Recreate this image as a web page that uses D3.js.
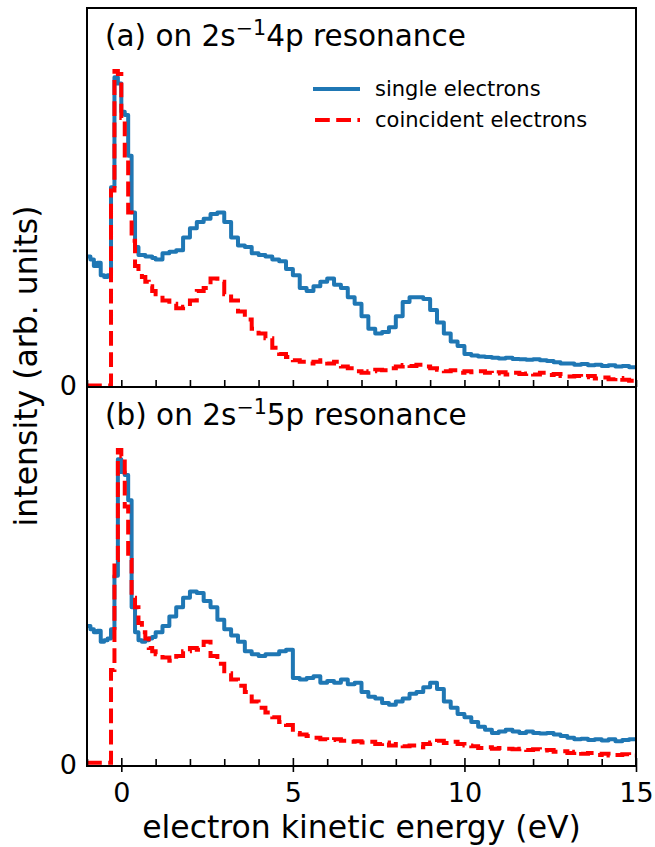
<!DOCTYPE html>
<html>
<head>
<meta charset="utf-8">
<script src="https://cdn.jsdelivr.net/npm/d3@7"></script>
<style>
  html, body { margin: 0; padding: 0; background: #fff; }
  svg { display: block; }
  text { font-family: "DejaVu Sans", sans-serif; fill: #000; }
</style>
</head>
<body>
<svg id="chart" width="655" height="847"></svg>
<script>
// ---------------- data ----------------
const energy = [
  -1.0,-0.9,-0.8,-0.7,-0.6,-0.5,-0.4,-0.3,-0.2,-0.1,
  0.0,0.1,0.2,0.3,0.4,0.5,0.6,0.7,0.8,0.9,
  1.0,1.2,1.4,1.6,1.8,2.0,2.2,2.4,2.6,2.8,
  3.0,3.2,3.4,3.6,3.8,4.0,4.2,4.4,4.6,4.8,
  5.0,5.2,5.4,5.6,5.8,6.0,6.2,6.4,6.6,6.8,
  7.0,7.2,7.4,7.6,7.8,8.0,8.2,8.4,8.6,8.8,
  9.0,9.2,9.4,9.6,9.8,10.0,10.2,10.4,10.6,10.8,
  11.0,11.2,11.4,11.6,11.8,12.0,12.2,12.4,12.6,12.8,
  13.0,13.2,13.4,13.6,13.8,14.0,14.2,14.4,14.6,14.8,15.0
];

// panel (a): 2s^-1 4p resonance
const singleA = [
  0.41,0.40,0.38,0.39,0.35,0.345,0.35,0.63,0.98,0.96,
  0.87,0.86,0.73,0.55,0.44,0.415,0.415,0.41,0.41,0.405,
  0.40,0.42,0.425,0.43,0.47,0.50,0.52,0.53,0.545,0.55,
  0.52,0.47,0.445,0.44,0.42,0.415,0.41,0.40,0.395,0.37,
  0.35,0.31,0.30,0.315,0.33,0.34,0.32,0.31,0.28,0.26,
  0.22,0.18,0.165,0.17,0.185,0.22,0.265,0.28,0.28,0.275,
  0.24,0.20,0.165,0.14,0.125,0.10,0.095,0.092,0.09,0.088,
  0.086,0.088,0.084,0.083,0.082,0.083,0.08,0.078,0.074,0.07,
  0.07,0.066,0.068,0.064,0.066,0.062,0.064,0.06,0.062,0.058,0.058
];
const coincA = [
  0.0,0.0,0.0,0.0,0.0,0.0,0.0,0.62,1.0,0.99,
  0.85,0.72,0.55,0.46,0.38,0.36,0.345,0.33,0.315,0.30,
  0.29,0.27,0.26,0.245,0.25,0.27,0.30,0.31,0.34,0.33,
  0.29,0.27,0.235,0.21,0.18,0.165,0.15,0.12,0.10,0.09,
  0.08,0.075,0.07,0.075,0.08,0.07,0.075,0.06,0.055,0.045,
  0.04,0.045,0.05,0.048,0.055,0.06,0.065,0.062,0.066,0.06,
  0.055,0.05,0.045,0.048,0.04,0.045,0.042,0.045,0.04,0.038,
  0.042,0.035,0.04,0.036,0.038,0.035,0.04,0.033,0.036,0.03,
  0.028,0.03,0.026,0.03,0.022,0.025,0.02,0.024,0.018,0.015,0.015
];

// panel (b): 2s^-1 5p resonance
const singleB = [
  0.44,0.43,0.42,0.425,0.39,0.395,0.40,0.43,0.60,0.97,
  0.93,0.92,0.84,0.50,0.42,0.395,0.39,0.395,0.40,0.405,
  0.42,0.44,0.47,0.50,0.53,0.55,0.545,0.52,0.50,0.46,
  0.43,0.41,0.39,0.36,0.35,0.345,0.35,0.35,0.36,0.365,
  0.275,0.27,0.275,0.28,0.26,0.265,0.26,0.27,0.255,0.26,
  0.23,0.215,0.21,0.195,0.19,0.20,0.21,0.225,0.23,0.245,
  0.26,0.24,0.20,0.18,0.16,0.15,0.135,0.12,0.11,0.10,
  0.105,0.11,0.105,0.10,0.105,0.10,0.098,0.10,0.095,0.09,
  0.085,0.08,0.082,0.078,0.08,0.076,0.08,0.074,0.078,0.08,0.08
];
const coincB = [
  0.005,0.005,0.005,0.005,0.005,0.005,0.005,0.30,0.65,1.0,
  0.98,0.82,0.65,0.53,0.50,0.45,0.42,0.40,0.37,0.36,
  0.35,0.34,0.33,0.345,0.36,0.37,0.365,0.39,0.345,0.32,
  0.29,0.27,0.25,0.23,0.20,0.18,0.165,0.15,0.135,0.125,
  0.10,0.095,0.09,0.085,0.08,0.078,0.08,0.075,0.072,0.074,
  0.07,0.072,0.065,0.07,0.06,0.065,0.058,0.06,0.055,0.065,
  0.07,0.075,0.068,0.072,0.065,0.06,0.058,0.052,0.055,0.05,
  0.052,0.05,0.048,0.05,0.046,0.048,0.044,0.046,0.04,0.042,
  0.036,0.04,0.034,0.036,0.03,0.034,0.028,0.03,0.032,0.028,0.028
];

const xMajorTicks = [0, 5, 10, 15];
const xMinorTicks = [-1,1,2,3,4,6,7,8,9,11,12,13,14];
const yTicks = [0];
const panelTitles = [
  {pre: "(a) on 2s", sup: "\u22121", post: "4p resonance"},
  {pre: "(b) on 2s", sup: "\u22121", post: "5p resonance"}
];
const seriesNames = ["single electrons", "coincident electrons"];
const xLabel = "electron kinetic energy (eV)";
const yLabel = "intensity (arb. units)";

// ---------------- layout ----------------
const svg = d3.select("#chart");
const L = 87, R = 636;
const panels = [
  {top: 8, bottom: 387, single: singleA, coinc: coincA, title: panelTitles[0], showXLabels: false},
  {top: 387, bottom: 766, single: singleB, coinc: coincB, title: panelTitles[1], showXLabels: true}
];
const blue = "#1f77b4", red = "#ff0000";
const lw = 4;

const x = d3.scaleLinear().domain([-1, 15]).range([L, R]);

panels.forEach((p, i) => {
  const y = d3.scaleLinear().domain([-0.005, 1.2]).range([p.bottom, p.top]);
  const g = svg.append("g");
  const clipId = "clip" + i;
  svg.append("clipPath").attr("id", clipId)
    .append("rect").attr("x", L).attr("y", p.top).attr("width", R - L).attr("height", p.bottom - p.top);

  const line = d3.line().curve(d3.curveStepAfter).x(d => x(d[0])).y(d => y(d[1]));
  const dataS = energy.map((e, k) => [e, p.single[k]]);
  const dataC = energy.map((e, k) => [e, p.coinc[k]]);

  const lines = g.append("g").attr("clip-path", `url(#${clipId})`);
  lines.append("path").datum(dataS).attr("d", line)
    .attr("fill", "none").attr("stroke", blue).attr("stroke-width", lw).attr("stroke-linejoin", "round");
  lines.append("path").datum(dataC).attr("d", line)
    .attr("fill", "none").attr("stroke", red).attr("stroke-width", lw)
    .attr("stroke-dasharray", "14.8,6.4");

  // ticks on bottom axis
  const axMinor = d3.axisBottom(x).tickValues(xMinorTicks).tickSizeInner(-7).tickSizeOuter(0).tickFormat("");
  const axMajor = d3.axisBottom(x).tickValues(xMajorTicks).tickSizeInner(p.showXLabels ? 6 : -7).tickSizeOuter(0)
    .tickFormat(p.showXLabels ? d3.format("d") : "").tickPadding(p.showXLabels ? 11 : 3);
  const gMin = g.append("g").attr("transform", `translate(0,${p.bottom})`).call(axMinor);
  const gMaj = g.append("g").attr("transform", `translate(0,${p.bottom})`).call(axMajor);
  [gMin, gMaj].forEach(a => {
    a.select(".domain").remove();
    a.selectAll("line").attr("stroke", "#000").attr("stroke-width", 1.6);
  });
  if (p.showXLabels) {
    gMaj.selectAll("line").attr("y1", -8);
    gMaj.selectAll("text").attr("font-size", 27).attr("font-family", "DejaVu Sans").attr("fill", "#000");
  }

  // y axis label 0
  const ay = d3.axisLeft(y).tickValues(yTicks).tickSize(0).tickPadding(10).tickFormat(d3.format("d"));
  const gy = g.append("g").attr("transform", `translate(${L},0)`).call(ay);
  gy.select(".domain").remove();
  gy.selectAll("text").attr("font-size", 27).attr("font-family", "DejaVu Sans").attr("fill", "#000");

  // frame
  g.append("rect").attr("x", L).attr("y", p.top).attr("width", R - L).attr("height", p.bottom - p.top)
    .attr("fill", "none").attr("stroke", "#000").attr("stroke-width", 2);

  // title
  const fs = 29.5;
  const t = g.append("text").attr("x", L + 18).attr("y", p.top + 38).attr("font-size", fs);
  t.append("tspan").text(p.title.pre);
  t.append("tspan").attr("font-size", fs * 0.7).attr("dy", -fs * 0.38).text(p.title.sup);
  t.append("tspan").attr("dy", fs * 0.38).text(p.title.post);
});

// legend (panel a)
const legY = [89, 120];
const legColors = [blue, red];
seriesNames.forEach((name, i) => {
  const ln = svg.append("line").attr("x1", 313).attr("x2", 360).attr("y1", legY[i]).attr("y2", legY[i])
    .attr("stroke", legColors[i]).attr("stroke-width", lw);
  if (i === 1) ln.attr("stroke-dasharray", "14.8,6.4").attr("x1", 315);
  svg.append("text").attr("x", 375).attr("y", legY[i]).attr("dy", "0.35em").attr("font-size", 21).text(name);
});

// axis labels
svg.append("text").attr("x", (L + R) / 2).attr("y", 838).attr("text-anchor", "middle")
  .attr("font-size", 31.5).text(xLabel);
svg.append("text").attr("transform", "translate(37,366) rotate(-90)").attr("text-anchor", "middle")
  .attr("font-size", 31.5).text(yLabel);
</script>
</body>
</html>
